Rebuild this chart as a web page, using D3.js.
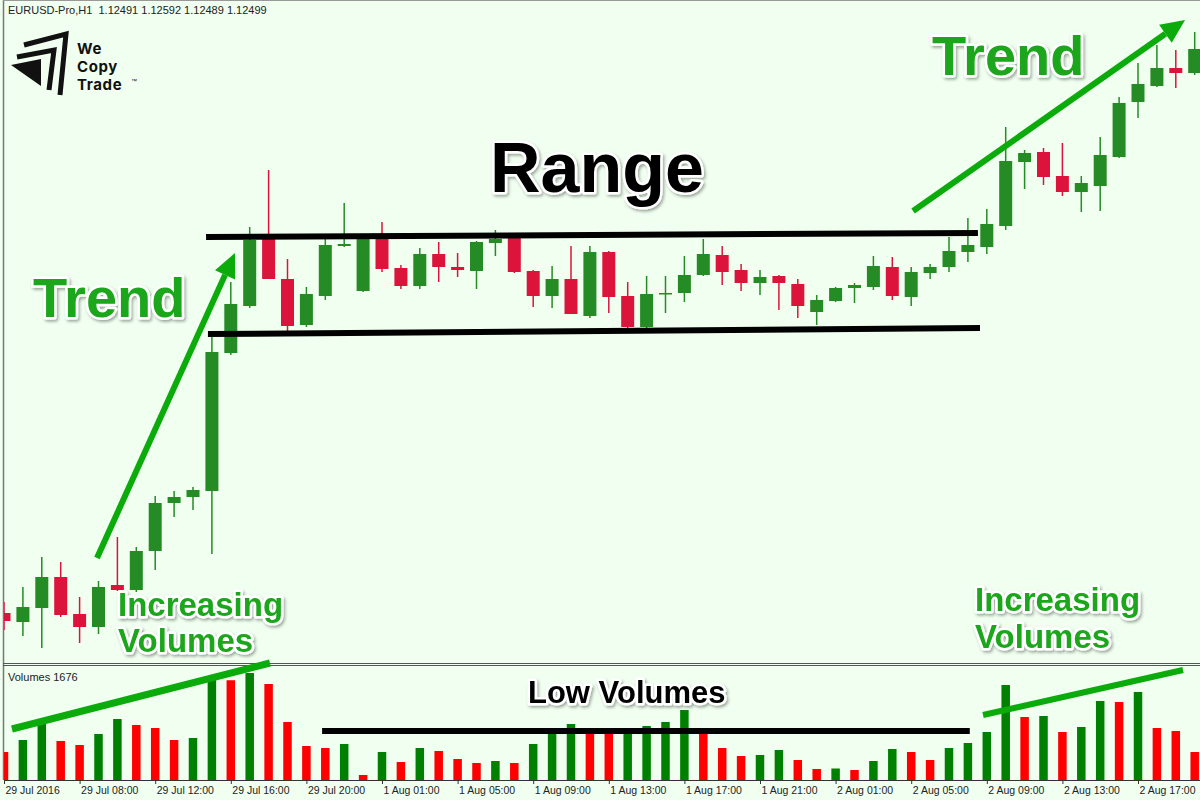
<!DOCTYPE html>
<html>
<head>
<meta charset="utf-8">
<title>EURUSD H1 - Trend / Range</title>
<script src="https://d3js.org/d3.v7.min.js"></script>
<style>
  body { margin: 0; background: #f0fff0; }
  svg { display: block; }
</style>
</head>
<body>
<svg id="chart" width="1200" height="800"></svg>
<script>
// hourly EURUSD bars, 29 Jul 2016 -> 2 Aug 2016
const opens = [1.10561,1.10534,1.10576,1.10669,1.10558,1.10519,1.10645,1.10630,1.10747,1.10891,
  1.10909,1.10927,1.11341,1.11482,1.11686,1.11563,1.11425,1.11512,1.11662,1.11527,
  1.11683,1.11596,1.11542,1.11638,1.11599,1.11587,1.11671,1.11686,1.11587,1.11512,
  1.11563,1.11452,1.11644,1.11512,1.11419,1.11518,1.11521,1.11575,1.11635,1.11590,
  1.11551,1.11572,1.11548,1.11464,1.11497,1.11536,1.11539,1.11599,1.11509,1.11581,
  1.11599,1.11644,1.11659,1.11722,1.11914,1.11944,1.11872,1.11824,1.11842,1.11929,
  1.12094,1.12142,1.12196,1.12181]
const highs = [1.10594,1.10639,1.10729,1.10714,1.10609,1.10657,1.10789,1.10759,1.10912,1.10927,
  1.10939,1.11389,1.11554,1.11719,1.11890,1.11623,1.11539,1.11683,1.11791,1.11692,
  1.11734,1.11605,1.11656,1.11674,1.11641,1.11677,1.11710,1.11692,1.11590,1.11602,
  1.11662,1.11662,1.11647,1.11554,1.11572,1.11572,1.11632,1.11683,1.11662,1.11608,
  1.11590,1.11575,1.11563,1.11515,1.11539,1.11551,1.11632,1.11629,1.11599,1.11608,
  1.11689,1.11746,1.11773,1.12019,1.11950,1.11956,1.11971,1.11872,1.11989,1.12109,
  1.12211,1.12265,1.12250,1.12304]
const lows = [1.10510,1.10492,1.10456,1.10549,1.10471,1.10498,1.10627,1.10624,1.10690,1.10849,
  1.10870,1.10738,1.11335,1.11476,1.11563,1.11407,1.11419,1.11500,1.11659,1.11524,
  1.11584,1.11533,1.11533,1.11554,1.11569,1.11533,1.11632,1.11581,1.11479,1.11476,
  1.11458,1.11446,1.11461,1.11416,1.11416,1.11461,1.11494,1.11572,1.11545,1.11527,
  1.11515,1.11470,1.11446,1.11425,1.11494,1.11491,1.11530,1.11500,1.11482,1.11563,
  1.11584,1.11614,1.11638,1.11710,1.11833,1.11845,1.11812,1.11764,1.11767,1.11926,
  1.12046,1.12139,1.12136,1.12175]
const closes = [1.10537,1.10579,1.10669,1.10555,1.10519,1.10639,1.10630,1.10747,1.10891,1.10909,
  1.10930,1.11344,1.11488,1.11680,1.11563,1.11422,1.11518,1.11665,1.11668,1.11686,
  1.11593,1.11542,1.11638,1.11599,1.11590,1.11674,1.11683,1.11584,1.11512,1.11563,
  1.11458,1.11644,1.11509,1.11419,1.11518,1.11521,1.11575,1.11638,1.11584,1.11551,
  1.11569,1.11551,1.11482,1.11500,1.11536,1.11545,1.11602,1.11512,1.11584,1.11599,
  1.11647,1.11665,1.11728,1.11917,1.11941,1.11869,1.11824,1.11851,1.11935,1.12091,
  1.12148,1.12196,1.12181,1.12253]
const volumes = [1120,1600,2280,1560,1400,1840,2440,2200,2080,1600,
  1680,4000,3990,4280,3840,2320,1360,1280,1440,200,
  1120,720,1280,1160,840,680,760,680,1440,1920,
  2240,2000,1960,2000,2160,2320,2800,1960,1280,960,
  1000,1200,800,440,460,400,760,1240,1120,800,
  1280,1480,1920,3800,2520,2560,1920,2120,3160,3120,
  3520,2080,1960,1120]

const tickBars = [0,4,8,12,16,20,24,28,32,36,40,44,48,52,56,60]
const tickLabels = ["29 Jul 2016","29 Jul 08:00","29 Jul 12:00","29 Jul 16:00","29 Jul 20:00",
  "1 Aug 01:00","1 Aug 05:00","1 Aug 09:00","1 Aug 13:00","1 Aug 17:00","1 Aug 21:00",
  "2 Aug 01:00","2 Aug 05:00","2 Aug 09:00","2 Aug 13:00","2 Aug 17:00"]

// drawn annotations, in [bar, price] / [bar, volume]
const rangeTop = [[10.69, 1.11689], [51.53, 1.11701]]
const rangeBottom = [[10.79, 1.11398], [51.64, 1.11416]]
const trendUp1 = [[4.92, 1.10726], [12.22, 1.11641]]
const trendUp2 = [[48.1, 1.11767], [62.49, 1.12340]]
const volRise1 = [[0.42, 2040], [14.07, 4680]]
const volFlat = [[16.83, 1960], [51.1, 1960]]
const volRise2 = [[51.8, 2600], [62.38, 4400]]

const svg = d3.select("#chart")
const W = 1200, H = 800
const mainBottom = 663, volTop = 667, volBottom = 780

const x = d3.scaleLinear().domain([0, 63]).range([4, 1194.7])
const y = d3.scaleLinear().domain([1.10411, 1.12400]).range([mainBottom, 0])
const yv = d3.scaleLinear().domain([0, 4520]).range([volBottom, volTop])

const upCol = "#258b25", downCol = "#dc143c"
const volUp = "#008000", volDown = "#ff0000"
const anno = "#0aab0a"

const defs = svg.append("defs")
defs.append("clipPath").attr("id", "clipMain")
  .append("rect").attr("x", 4).attr("y", 1).attr("width", W).attr("height", mainBottom - 1)
defs.append("clipPath").attr("id", "clipVol")
  .append("rect").attr("x", 4).attr("y", volTop).attr("width", W).attr("height", volBottom - volTop)
const f = defs.append("filter").attr("id", "shadow")
  .attr("x", "-10%").attr("y", "-20%").attr("width", "130%").attr("height", "150%")
f.append("feDropShadow").attr("dx", 1.5).attr("dy", 2).attr("stdDeviation", 1.6)
  .attr("flood-color", "#000").attr("flood-opacity", 0.35)

svg.append("rect").attr("width", W).attr("height", H).attr("fill", "#f0fff0")

// frame
svg.append("line").attr("x1", 3.5).attr("x2", 3.5).attr("y1", 0).attr("y2", volBottom)
  .attr("stroke", "#777").attr("stroke-width", 1.5)
svg.append("line").attr("x1", 3).attr("x2", W).attr("y1", 0.5).attr("y2", 0.5)
  .attr("stroke", "#999")
;[mainBottom + 0.5, volTop - 1.5].forEach(yy => {
  svg.append("line").attr("x1", 3).attr("x2", W).attr("y1", yy).attr("y2", yy)
    .attr("stroke", "#555").attr("stroke-width", 1)
})

// candles
const bars = d3.range(opens.length).map(i => ({
  i, o: opens[i], h: highs[i], l: lows[i], c: closes[i], v: volumes[i],
  vUp: i > 0 && volumes[i] > volumes[i - 1]
}))

const gMain = svg.append("g").attr("clip-path", "url(#clipMain)")
gMain.selectAll("line.wick").data(bars).enter().append("line")
  .attr("class", "wick")
  .attr("x1", d => x(d.i)).attr("x2", d => x(d.i))
  .attr("y1", d => y(d.h)).attr("y2", d => y(d.l))
  .attr("stroke", d => d.c >= d.o ? upCol : downCol)
  .attr("stroke-width", 1.5)
gMain.selectAll("rect.body").data(bars).enter().append("rect")
  .attr("class", "body")
  .attr("x", d => x(d.i) - 6.5)
  .attr("width", 13)
  .attr("y", d => y(Math.max(d.o, d.c)))
  .attr("height", d => Math.max(1.5, Math.abs(y(d.o) - y(d.c))))
  .attr("fill", d => d.c >= d.o ? upCol : downCol)

// volumes
const gVol = svg.append("g").attr("clip-path", "url(#clipVol)")
gVol.selectAll("rect").data(bars).enter().append("rect")
  .attr("x", d => x(d.i) - 4.25)
  .attr("width", 8.5)
  .attr("y", d => yv(d.v))
  .attr("height", d => volBottom - yv(d.v))
  .attr("fill", d => d.vUp ? volUp : volDown)

// time axis
const xAxis = d3.axisBottom(x)
  .tickValues(tickBars)
  .tickFormat((d, k) => tickLabels[k])
  .tickSize(4)
  .tickSizeOuter(0)
const gx = svg.append("g").attr("transform", `translate(0,${volBottom})`).call(xAxis)
gx.select(".domain").attr("stroke", "#333").attr("d", `M4,0.5H${W}`)
gx.selectAll(".tick line").attr("stroke", "#333")
gx.selectAll(".tick text")
  .attr("text-anchor", "start").attr("x", 1).attr("y", 7)
  .attr("fill", "#222")
  .style("font-family", "'Liberation Sans', Arial, sans-serif").style("font-size", "10.5px")

// annotation lines
const seg = (g, pts, sy, color, w) => g.append("line")
  .attr("x1", x(pts[0][0])).attr("y1", sy(pts[0][1]))
  .attr("x2", x(pts[1][0])).attr("y2", sy(pts[1][1]))
  .attr("stroke", color).attr("stroke-width", w)

seg(svg, rangeTop, y, "#000", 6)
seg(svg, rangeBottom, y, "#000", 6)
seg(svg, volFlat, yv, "#000", 6)
seg(svg, volRise1, yv, anno, 7)
seg(svg, volRise2, yv, anno, 6)

const arrow = (pts) => {
  const x1 = x(pts[0][0]), y1 = y(pts[0][1]), x2 = x(pts[1][0]), y2 = y(pts[1][1])
  const a = Math.atan2(y2 - y1, x2 - x1)
  const len = 24, hw = 11
  const bx = x2 - len * Math.cos(a), by = y2 - len * Math.sin(a)
  svg.append("line").attr("x1", x1).attr("y1", y1).attr("x2", bx).attr("y2", by)
    .attr("stroke", anno).attr("stroke-width", 6)
  const px = -Math.sin(a) * hw, py = Math.cos(a) * hw
  svg.append("polygon")
    .attr("points", [[x2, y2], [bx + px, by + py], [bx - px, by - py]].map(p => p.join(",")).join(" "))
    .attr("fill", anno)
}
arrow(trendUp1)
arrow(trendUp2)

// big captions
const caption = (txt, px, py, size, color) => svg.append("text")
  .attr("x", px).attr("y", py).text(txt)
  .attr("fill", color)
  .attr("stroke", "#fff").attr("stroke-width", 5).attr("stroke-linejoin", "round")
  .attr("paint-order", "stroke")
  .attr("filter", "url(#shadow)")
  .style("font-family", "'Liberation Sans', Arial, sans-serif")
  .style("font-weight", "bold").style("font-size", size + "px")

const green = "#1aa61a"
caption("Trend", 33, 317, 56, green)
caption("Trend", 932, 75, 56, green)
caption("Range", 490, 192, 70, "#000")
caption("Increasing", 118, 616, 33, green)
caption("Volumes", 118, 652, 33, green)
caption("Increasing", 975, 611, 33, green)
caption("Volumes", 975, 648, 33, green)
caption("Low Volumes", 528, 703, 31, "#000")

// header texts
svg.append("text").attr("x", 8).attr("y", 14)
  .text("EURUSD-Pro,H1  1.12491 1.12592 1.12489 1.12499")
  .attr("fill", "#222").attr("xml:space", "preserve").style("white-space", "pre")
  .style("font-family", "'Liberation Sans', Arial, sans-serif").style("font-size", "11px")
svg.append("text").attr("x", 8).attr("y", 681)
  .text("Volumes 1676")
  .attr("fill", "#222")
  .style("font-family", "'Liberation Sans', Arial, sans-serif").style("font-size", "11px")

// logo
const logo = svg.append("g")
logo.append("polyline").attr("points", "24,45 66,34 60,95")
  .attr("fill", "none").attr("stroke", "#111").attr("stroke-width", 5).attr("stroke-linejoin", "miter")
logo.append("polyline").attr("points", "17,57 54,50 49,90")
  .attr("fill", "none").attr("stroke", "#111").attr("stroke-width", 5).attr("stroke-linejoin", "miter")
logo.append("polygon").attr("points", "11,65 41,59 41,86").attr("fill", "#111")
;["We", "Copy", "Trade"].forEach((t, k) => {
  logo.append("text").attr("x", 77).attr("y", 54 + k * 18).text(t)
    .attr("fill", "#111")
    .style("font-family", "Inter, 'Liberation Sans', sans-serif")
    .style("font-weight", 700).style("font-size", "15px")
    .style("letter-spacing", "0.6px")
})
logo.append("text").attr("x", 131).attr("y", 83).text("™")
  .attr("fill", "#111").style("font-family", "'Liberation Sans', sans-serif").style("font-size", "6px")
</script>
</body>
</html>
